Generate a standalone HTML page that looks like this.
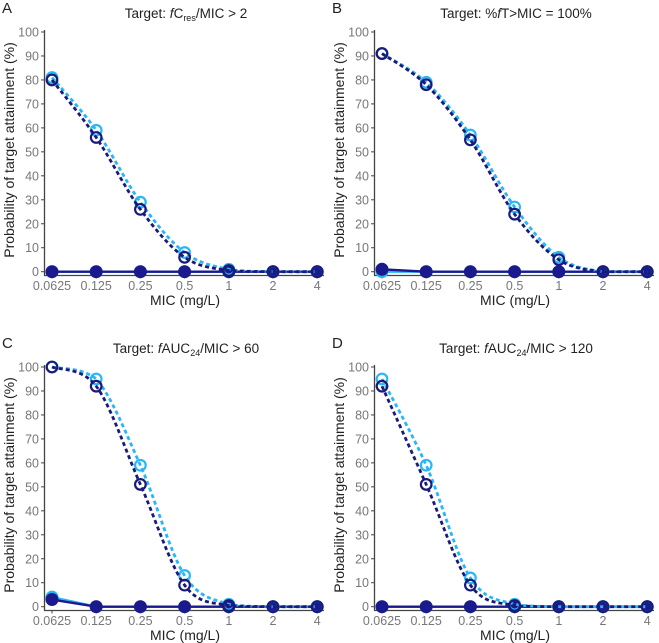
<!DOCTYPE html>
<html><head><meta charset="utf-8"><style>
body{margin:0;background:#fff}
svg{display:block;font-family:"Liberation Sans",Arial,sans-serif}
</style></head><body>
<svg id="c" width="659" height="643" viewBox="0 0 659 643"></svg>
<script>
const categories=["0.0625","0.125","0.25","0.5","1","2","4"];
const yTicks=[0,10,20,30,40,50,60,70,80,90,100];
const aLight=[81,59,29,8,1,0,0], aDark=[80,56,26,6,0.5,0,0], aSolidL=[0,0,0,0,0,0,0], aSolidD=[0,0,0,0,0,0,0];
const bLight=[91,79,57,27,6,0,0], bDark=[91,78,55,24,5,0,0], bSolidL=[0,0,0,0,0,0,0], bSolidD=[1,0,0,0,0,0,0];
const cLight=[100,95,59,13,1,0,0], cDark=[100,92,51,9,0.5,0,0], cSolidL=[4,0,0,0,0,0,0], cSolidD=[3,0,0,0,0,0,0];
const dLight=[95,59,12,1,0,0,0], dDark=[92,51,9,0.5,0,0,0], dSolidL=[0,0,0,0,0,0,0], dSolidD=[0,0,0,0,0,0,0];
const panels=[
 {letter:"A",ox:0,oy:0,light:aLight,dark:aDark,sl:aSolidL,sd:aSolidD,title:'Target: <tspan font-style="italic">f</tspan>C<tspan font-size="9" dy="3">res</tspan><tspan dy="-3">/MIC &gt; 2</tspan>'},
 {letter:"B",ox:330,oy:0,light:bLight,dark:bDark,sl:bSolidL,sd:bSolidD,title:'Target: %<tspan font-style="italic">f</tspan>T&gt;MIC = 100%'},
 {letter:"C",ox:0,oy:335,light:cLight,dark:cDark,sl:cSolidL,sd:cSolidD,title:'Target: <tspan font-style="italic">f</tspan>AUC<tspan font-size="9" dy="3">24</tspan><tspan dy="-3">/MIC &gt; 60</tspan>'},
 {letter:"D",ox:330,oy:335,light:dLight,dark:dDark,sl:dSolidL,sd:dSolidD,title:'Target: <tspan font-style="italic">f</tspan>AUC<tspan font-size="9" dy="3">24</tspan><tspan dy="-3">/MIC &gt; 120</tspan>'}
];
const svg=document.getElementById('c');
const NS="http://www.w3.org/2000/svg";
function mk(tag,attrs,parent){const e=document.createElementNS(NS,tag);for(const k in attrs)e.setAttribute(k,attrs[k]);(parent||svg).appendChild(e);return e;}
function smooth(pts){let d="M"+pts[0][0]+","+pts[0][1];for(let i=0;i<pts.length-1;i++){const p0=pts[i-1]||pts[i],p1=pts[i],p2=pts[i+1],p3=pts[i+2]||p2;let c1y=p1[1]+(p2[1]-p0[1])/6,c2y=p2[1]-(p3[1]-p1[1])/6;const lo=Math.min(p1[1],p2[1]),hi=Math.max(p1[1],p2[1]);c1y=Math.min(hi,Math.max(lo,c1y));c2y=Math.min(hi,Math.max(lo,c2y));d+=" C"+(p1[0]+(p2[0]-p0[0])/6)+","+c1y+" "+(p2[0]-(p3[0]-p1[0])/6)+","+c2y+" "+p2[0]+","+p2[1];}return d;}
panels.forEach((p,pi)=>{
 const g=mk('g',{});
 
 
 const X=i=>p.ox+52+i*44.2, Y=v=>p.oy+271.7-v*2.397;
 const L=mk('text',{x:p.ox+2,y:p.oy+13,'font-size':15,fill:'#222'},g);L.textContent=p.letter;
 
 const T=mk('text',{x:p.ox+186,y:p.oy+18,'font-size':13.5,fill:'#222','text-anchor':'middle'},g);T.innerHTML=p.title;
 
 mk('line',{x1:p.ox+44.5,y1:Y(100)-2,x2:p.ox+44.5,y2:p.oy+275.5,stroke:'#444','stroke-width':1.3},g);
 mk('line',{x1:p.ox+44,y1:p.oy+275.5,x2:p.ox+324,y2:p.oy+275.5,stroke:'#444','stroke-width':1.3},g);
 yTicks.forEach(t=>{mk('line',{x1:p.ox+41,x2:p.ox+44,y1:Y(t),y2:Y(t),stroke:'#444'},g);
  const e=mk('text',{x:p.ox+39,y:Y(t)+4.5,'font-size':12.5,fill:'#777','text-anchor':'end'},g);e.textContent=t;
  });
 categories.forEach((c,i)=>{mk('line',{x1:X(i),x2:X(i),y1:p.oy+275.5,y2:p.oy+278.5,stroke:'#444'},g);
  const e=mk('text',{x:X(i),y:p.oy+290,'font-size':12.5,fill:'#777','text-anchor':'middle'},g);e.textContent=c;
  });
 const xt=mk('text',{x:p.ox+185,y:p.oy+305,'font-size':14,fill:'#222','text-anchor':'middle'},g);xt.textContent="MIC (mg/L)";
 
 const yt=mk('text',{x:0,y:0,'font-size':14,fill:'#222','text-anchor':'middle',transform:`translate(${p.ox+14},${p.oy+150}) rotate(-90)`},g);yt.textContent="Probability of target attainment (%)";
 
 const series=[[p.sl,'#29b6f6',false],[p.sd,'#1a1a8c',false],[p.light,'#29b6f6',true],[p.dark,'#1a1a7a',true]];
 series.forEach(([vals,col,dashed],si)=>{
  const pts=vals.map((v,i)=>[X(i),Y(v)]);
  const path=mk('path',{d:dashed?smooth(pts):"M"+pts.map(q=>q.join(',')).join(' L'),fill:'none',stroke:col,'stroke-width':dashed?2.8:2.4,'stroke-dasharray':dashed?'4,3':'none'},g);
  
  
  vals.forEach((v,i)=>{
   const c=mk('circle',{cx:X(i),cy:Y(v),r:dashed?5.3:6,fill:dashed?'none':(si===0?'#29b6f6':'#1a1a8c'),stroke:col,'stroke-width':dashed?2.2:1},g);
   
   
  });
 });
});
</script>
</body></html>
